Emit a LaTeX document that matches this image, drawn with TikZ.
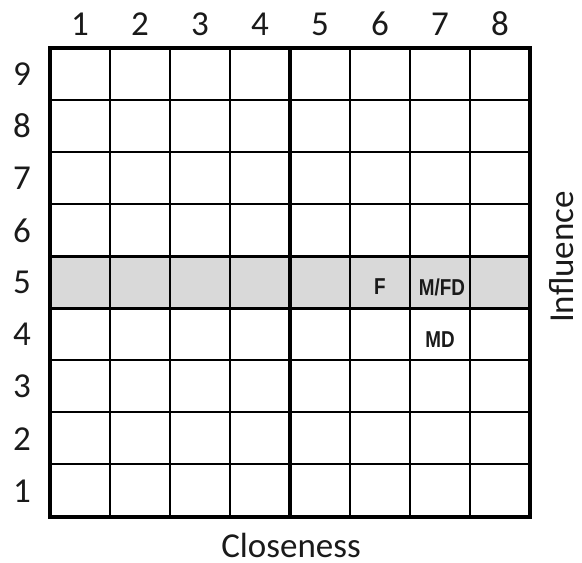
\documentclass[tikz,border=0pt]{standalone}
\usepackage{fontspec}
\setmainfont{Carlito}
\newfontfamily\narrowfont[FakeStretch=0.82]{Liberation Sans}
\definecolor{bandgray}{HTML}{D9D9D9}
\definecolor{inkgray}{HTML}{1A1A1A}
\begin{document}
\begin{tikzpicture}[x=1pt,y=-1pt]
			\tikzstyle{every node}+=[inner sep=0pt]
			\tikzstyle{thin line}=[black,line width=1.9pt]
			\tikzstyle{thick line}=[black,line width=3.6pt]
			\tikzstyle{axis num}=[font=\fontsize{35}{38}\selectfont,text=inkgray]
			\tikzstyle{cell text}=[font=\narrowfont\bfseries\fontsize{23}{26}\selectfont,text=inkgray]
			\useasboundingbox (0,0) rectangle (582,563);
			% band for row 5
			\fill [bandgray] (50,257) rectangle (530,308);
			% inner grid lines
			\foreach \x in {110,170,230,350,410,470}
				\draw [thin line] (\x,48) -- (\x,517);
			\foreach \y in {100.1,152.2,204.3,360.1,412.2,464.3}
				\draw [thin line] (50,\y) -- (530,\y);
			% heavy lines
			\draw [thick line] (290,48) -- (290,517);
			\draw [thick line] (50,256.4) -- (530,256.4);
			\draw [thick line] (50,308.3) -- (530,308.3);
			\draw [thick line] (50,48) rectangle (530,517);
			% axis numbers
			\foreach \c in {1,...,8}
				\node [axis num] (col\c) at ({20+60*\c},24) {\c};
			\foreach \r in {1,...,9}
				\node [axis num] (row\r) at (22,{48+(9.5-\r)*52.1}) {\r};
			% axis titles
			\node [axis num] (closeness) at (291,545) {Closeness};
			\node [axis num,rotate=90] (influence) at (562,257) {Influence};
			% cell entries
			\node [cell text] (f) at (380,287) {F};
			\node [cell text] (mfd) at (442,287) {M/FD};
			\node [cell text] (md) at (440,340) {MD};
		\end{tikzpicture}
\end{document}
